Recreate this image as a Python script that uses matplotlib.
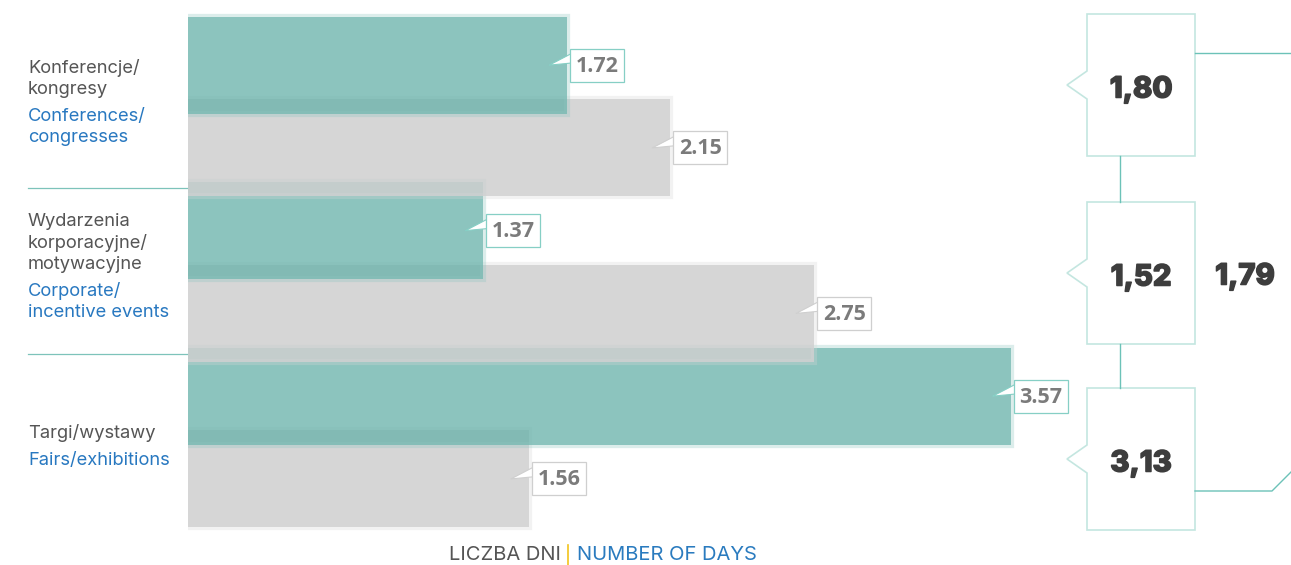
import matplotlib
matplotlib.use('Agg')
import matplotlib.pyplot as plt
import matplotlib.patheffects as pe
from matplotlib.patches import Rectangle, Polygon

# data
labels_pl = [['Konferencje/', 'kongresy'],
             ['Wydarzenia', 'korporacyjne/', 'motywacyjne'],
             ['Targi/wystawy']]
labels_en = [['Conferences/', 'congresses'],
             ['Corporate/', 'incentive events'],
             ['Fairs/exhibitions']]
teal_vals = [1.72, 1.37, 3.57]
gray_vals = [2.15, 2.75, 1.56]
side_vals = [1.80, 1.52, 3.13]
side_total = 1.79
axis_pl = 'LICZBA DNI'
axis_en = 'NUMBER OF DAYS'

# semi-transparent fills so the overlaps look like the original
TEAL = (103 / 255, 178 / 255, 170 / 255, 0.756)
GRAY = (207 / 255, 207 / 255, 207 / 255, 0.85)
TEAL_EDGE = (140 / 255, 197 / 255, 191 / 255, 0.3)
GRAY_EDGE = (214 / 255, 214 / 255, 214 / 255, 0.3)
W, H = 1291, 565

fig = plt.figure(figsize=(W / 100, H / 100), dpi=100)
# background overlay (pixel coordinates, y down)
bg = fig.add_axes([0, 0, 1, 1], zorder=0)
bg.set_xlim(0, W); bg.set_ylim(H, 0); bg.axis('off')

# bar axes (value axis starts a little above zero, like the original)
x0 = 0.1377
ax = fig.add_axes([188 / W, 0, (W - 188) / W, 1], zorder=1)
ax.patch.set_alpha(0)
ax.set_xlim(x0, x0 + (W - 188) / 239.7)
ax.set_ylim(2.770, -0.6435)
ax.axis('off')

# top overlay for labels
ov = fig.add_axes([0, 0, 1, 1], zorder=2)
ov.patch.set_alpha(0)
ov.set_xlim(0, W); ov.set_ylim(H, 0); ov.axis('off')


def to_px(x, y):
    d = ax.transData.transform((x, y))
    return d[0], H - d[1]


bh = 0.586
for i in range(3):
    ax.barh(i + 0.25, gray_vals[i], height=bh, facecolor=GRAY, edgecolor=GRAY_EDGE,
            linewidth=4.5, zorder=9 - 2 * i)
    ax.barh(i - 0.25, teal_vals[i], height=bh, facecolor=TEAL, edgecolor=TEAL_EDGE,
            linewidth=4.5, zorder=10 - 2 * i)


def value_label(v, y, edge):
    xe, yc = to_px(v, y)
    bx = xe + 3
    tail = Polygon([(bx + 0.5, yc - 11), (xe - 18, yc), (bx + 0.5, yc - 2)],
                   closed=True, facecolor='white', edgecolor='none', zorder=3)
    ov.add_patch(tail)
    ov.plot([bx, xe - 18, bx], [yc - 11, yc, yc - 2], color=edge, lw=0.8, zorder=4)
    ov.add_patch(Rectangle((bx, yc - 16.5), 54, 33, facecolor='white',
                           edgecolor=edge, lw=0.9, zorder=5))
    ov.text(bx + 27, yc + 1, f'{v:.2f}', ha='center', va='center', fontsize=15.5,
            fontweight='bold', family='Open Sans', color='#7b7b7b', zorder=6)


for i in range(3):
    value_label(teal_vals[i], i - 0.25, '#86cfc5')
    value_label(gray_vals[i], i + 0.25, '#cfcfcf')

# category labels on the left
shift = [0, -1, 13]
for i in range(3):
    _, yc = to_px(0, i)
    lines = [(t, '#555555') for t in labels_pl[i]]
    lines_en = [(t, '#2878c0') for t in labels_en[i]]
    n = len(lines) + len(lines_en)
    total = (n - 1) * 21.5 + 5.5
    y = yc - total / 2 - 4 + shift[i]
    for t, c in lines:
        bg.text(28, y, t, ha='left', va='center', fontsize=13.2, family='Inter', color=c)
        y += 21.5
    y += 5.5
    for t, c in lines_en:
        bg.text(28, y, t, ha='left', va='center', fontsize=13.2, family='Inter', color=c)
        y += 21.5

# separator lines between categories
for b in [0.5, 1.5]:
    _, yl = to_px(0, b)
    bg.plot([28, 188], [yl - 1, yl - 1], color='#7dc3ba', lw=0.9)

# axis title
bg.text(561, 555, axis_pl, ha='right', va='center', fontsize=14.5, family='Inter',
        color='#555555')
bg.plot([568, 568], [545, 565], color='#f2c31b', lw=1.2)
bg.text(577, 555, axis_en, ha='left', va='center', fontsize=14.5, family='Inter',
        color='#2a7bbf')

# right side summary boxes
tops = [14, 202, 388]
bx0, bx1, boxh = 1087, 1195, 142
heavy = [pe.withStroke(linewidth=1.1, foreground='#3d3d3d')]
for t, v in zip(tops, side_vals):
    poly = [(bx0, t), (bx1, t), (bx1, t + boxh), (bx0, t + boxh),
            (bx0, t + 85), (1067, t + 71), (bx0, t + 57)]
    bg.add_patch(Polygon(poly, closed=True, facecolor='white', edgecolor='#c4e6e0',
                         lw=1.2))
    bg.text(1141, t + 76, f'{v:.2f}'.replace('.', ','), ha='center', va='center',
            fontsize=21, fontweight='heavy', family='Inter', color='#3d3d3d',
            path_effects=heavy)

bg.plot([1120, 1120], [14 + boxh, 202], color='#6cc2b8', lw=1)
bg.plot([1120, 1120], [202 + boxh, 388], color='#6cc2b8', lw=1)
bg.plot([bx1, W], [53, 53], color='#6cc2b8', lw=1)
bg.plot([bx1, 1272, W], [491, 491, 472], color='#6cc2b8', lw=1)
bg.text(1245, 277, f'{side_total:.2f}'.replace('.', ','), ha='center', va='center',
        fontsize=21, fontweight='heavy', family='Inter', color='#3d3d3d',
        path_effects=heavy)

plt.savefig('out.png', dpi=100)
